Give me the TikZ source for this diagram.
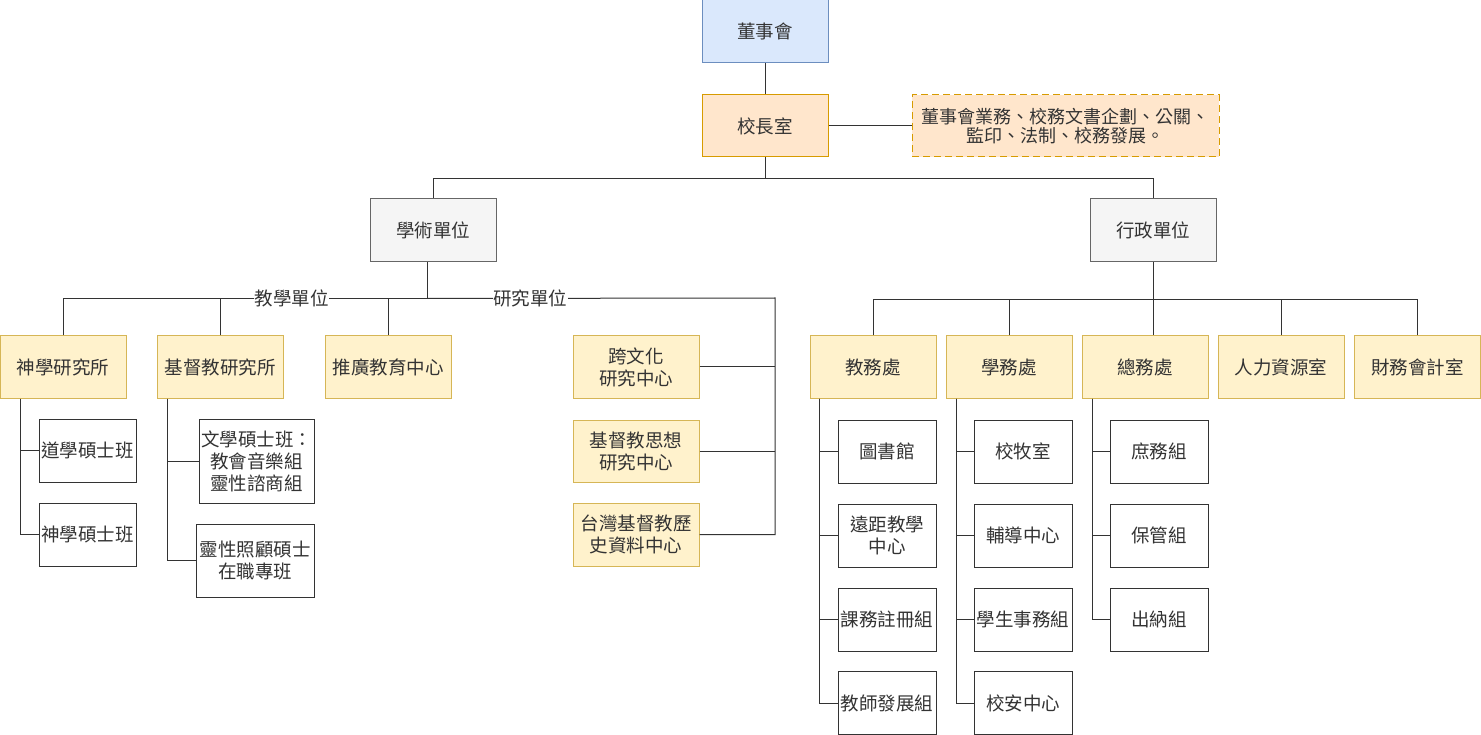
\documentclass[tikz,border=0pt]{standalone}
\usepackage{fontspec}
\setmainfont{Noto Sans CJK TC}
\definecolor{linec}{HTML}{333333}
\definecolor{bluefill}{HTML}{DAE8FC}
\definecolor{blueline}{HTML}{6C8EBF}
\definecolor{orgfill}{HTML}{FFE6CC}
\definecolor{orgline}{HTML}{D79B00}
\definecolor{grayfill}{HTML}{F5F5F5}
\definecolor{grayline}{HTML}{666666}
\definecolor{yelfill}{HTML}{FFF2CC}
\definecolor{yelline}{HTML}{D6B656}
\def\boxfont{\fontsize{18.5}{22}\selectfont}
\def\dsub#1#2#3{\draw ([xshift=#2]#1.south west) |- (#3.west);}

\begin{document}
\begin{tikzpicture}[x=1pt,y=-1pt,line width=1pt,color=linec,
    every node/.style={font=\boxfont,align=center,inner sep=1pt},
    box/.style={draw,minimum width=126,minimum height=62},
    bluebox/.style={box,draw=blueline,fill=bluefill,minimum height=63},
    orgbox/.style={box,draw=orgline,fill=orgfill},
    graybox/.style={box,draw=grayline,fill=grayfill,minimum height=63},
    yelbox/.style={box,draw=yelline,fill=yelfill},
    leaf/.style={draw,fill=white,minimum width=98,minimum height=63},
    lbl/.style={fill=white,inner sep=0.5pt}]
\useasboundingbox (0,0) rectangle (1481,735);

\node[bluebox] (board) at (765,31.5) {董事會};
\node[orgbox] (pres) at (765,126) {校長室};
\node[orgbox,dashed,dash pattern=on 7pt off 4pt,minimum width=307,
      font=\fontsize{18}{18.5}\selectfont] (duty) at (1065.5,126)
      {董事會業務、校務文書企劃、公關、\\監印、法制、校務發展。};
\node[graybox] (acad) at (433,230.5) {學術單位};
\node[graybox] (admin) at (1153,230.5) {行政單位};

\node[yelbox] (theo) at (63,367) {神學研究所};
\node[yelbox] (chr) at (220,367) {基督教研究所};
\node[yelbox] (ext) at (388,367) {推廣教育中心};
\node[yelbox] (cross) at (636,367) {跨文化\\研究中心};
\node[yelbox] (thought) at (636,451) {基督教思想\\研究中心};
\node[yelbox,minimum height=63] (hist) at (636,534.5) {台灣基督教歷\\史資料中心};

\node[leaf,minimum width=97] (mdiv) at (87.5,450.5) {道學碩士班};
\node[leaf,minimum width=97] (mth) at (87.5,534.5) {神學碩士班};
\node[leaf,minimum width=115,minimum height=84] (ma) at (256.5,461) {文學碩士班：\\教會音樂組\\靈性諮商組};
\node[leaf,minimum width=118,minimum height=73] (care) at (255,560.5) {靈性照顧碩士\\在職專班};

\node[yelbox] (acaf) at (873,367) {教務處};
\node[yelbox] (stud) at (1009,367) {學務處};
\node[yelbox] (gen) at (1145,367) {總務處};
\node[yelbox] (hr) at (1281,367) {人力資源室};
\node[yelbox] (fin) at (1417.5,367) {財務會計室};

\node[leaf] (lib) at (887,451.5) {圖書館};
\node[leaf] (dist) at (887,535.5) {遠距教學\\中心};
\node[leaf] (reg) at (887,619.5) {課務註冊組};
\node[leaf] (fac) at (887,703) {教師發展組};
\node[leaf] (chap) at (1023,451.5) {校牧室};
\node[leaf] (coun) at (1023,535.5) {輔導中心};
\node[leaf] (saff) at (1023,619.5) {學生事務組};
\node[leaf] (safe) at (1023,703) {校安中心};
\node[leaf] (gaff) at (1159,451.5) {庶務組};
\node[leaf] (prop) at (1159,535.5) {保管組};
\node[leaf] (cash) at (1159,619.5) {出納組};

\draw (board) -- (pres);
\draw (pres) -- (duty);
\draw (pres.south) -- ++(0,21) coordinate (top) -| (acad.north);
\draw (top) -| (admin.north);

\draw ([xshift=-6pt]acad.south) -- ++(0,36) coordinate (abus);
\coordinate (rbus) at (775,298);
\draw (theo.north) |- (abus);
\draw (chr.north) |- (abus);
\draw (ext.north) |- (abus);
\draw (abus) -- (rbus) |- (hist.east);
\draw (cross.east) -- (cross.east -| rbus);
\draw (thought.east) -- (thought.east -| rbus);
\node[lbl] (teach) at (291.5,298) {教學單位};
\node[lbl] (res) at (530,298) {研究單位};

\draw (admin.south) -- ++(0,37) coordinate (bbus);
\draw (acaf.north) |- (bbus);
\draw (stud.north) |- (bbus);
\draw (bbus) -- (bbus |- gen.north);
\draw (hr.north) |- (bbus);
\draw (fin.north) |- (bbus);

\dsub{theo}{21pt}{mdiv} \dsub{theo}{21pt}{mth}
\dsub{chr}{11pt}{ma} \dsub{chr}{11pt}{care}
\foreach \k in {lib,dist,reg,fac} {\dsub{acaf}{10pt}{\k}}
\foreach \k in {chap,coun,saff,safe} {\dsub{stud}{11pt}{\k}}
\foreach \k in {gaff,prop,cash} {\dsub{gen}{11pt}{\k}}
\end{tikzpicture}
\end{document}
